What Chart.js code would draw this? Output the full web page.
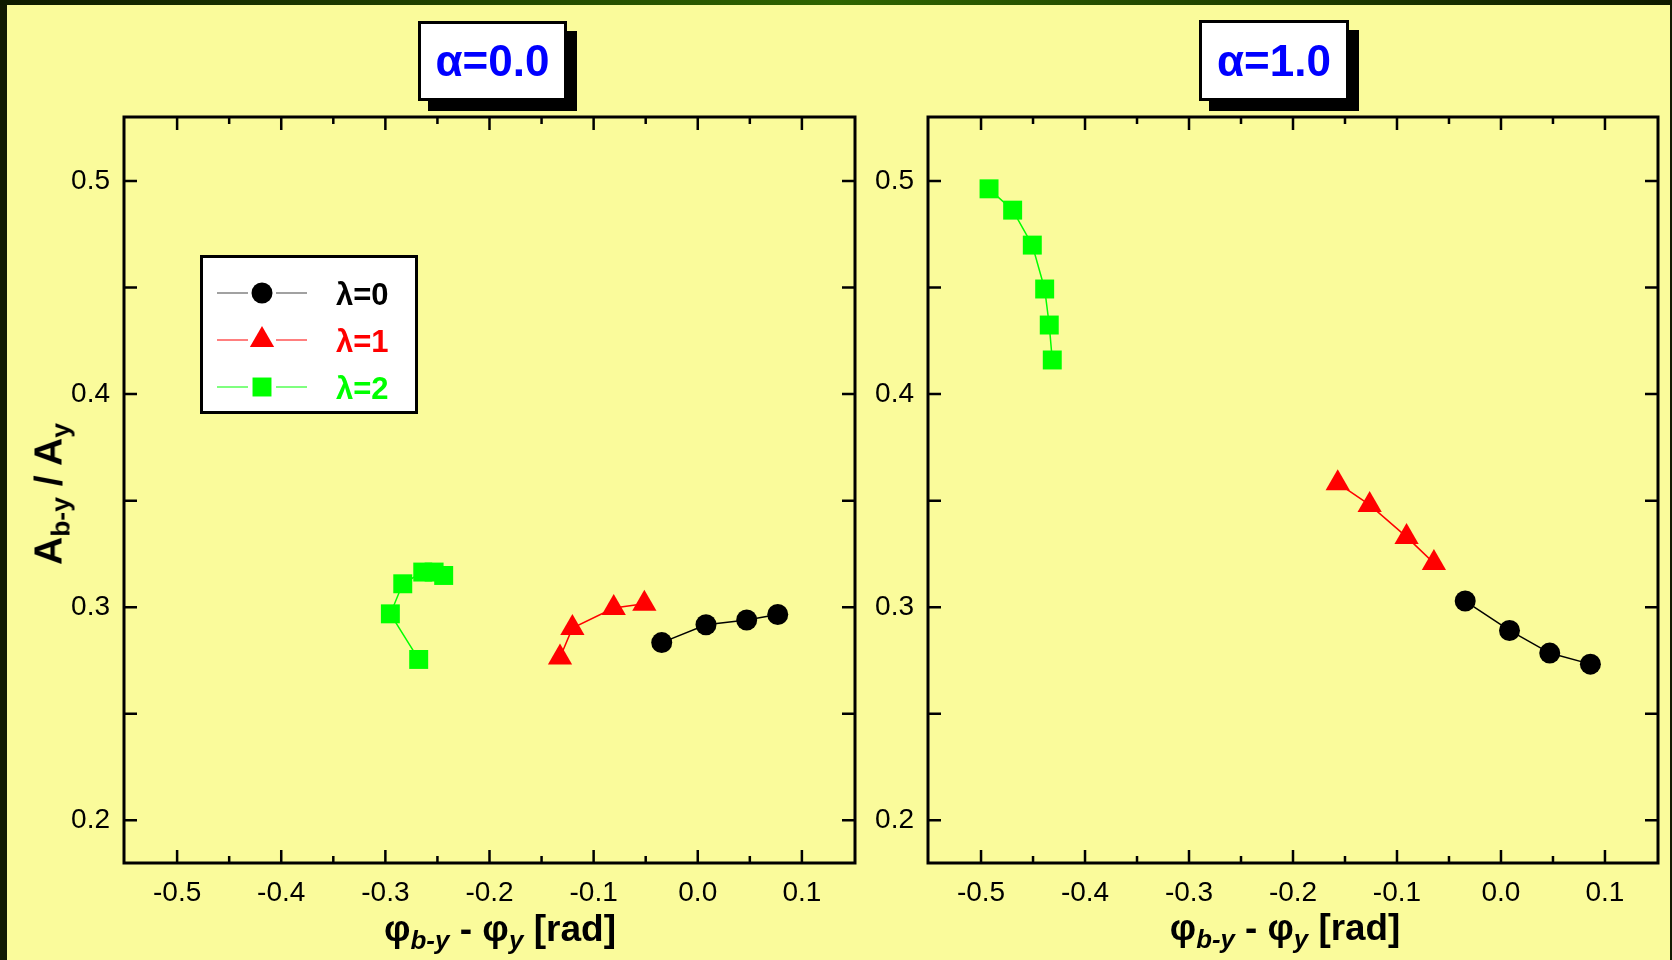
<!DOCTYPE html>
<html>
<head>
<meta charset="utf-8">
<script src="https://cdn.jsdelivr.net/npm/chart.js@4.4.1/dist/chart.umd.min.js"></script>
<style>
  html, body { margin: 0; padding: 0; }
  body {
    width: 1672px; height: 960px; position: relative; overflow: hidden;
    background: #111a02; font-family: "Liberation Sans", Arial, sans-serif;
  }
  #topbar { position: absolute; left: 0; top: 0; width: 1672px; height: 5px;
    background: linear-gradient(to right, #0f1a00, #2e6400 50%, #0f1a00); }
  #panel { position: absolute; left: 7px; top: 5px; width: 1663px; height: 955px; background: #FAFB9B; }
  canvas { position: absolute; top: 0; }
  #cL { left: 0; }
  #cR { left: 850px; }
  .tbox { position: absolute; background: #fff; border: 3px solid #000; box-sizing: border-box;
    box-shadow: 10px 10px 0 #000; display: flex; align-items: center; justify-content: center; }
  .tbox span { color: #0000ff; font-weight: bold; font-size: 44px; line-height: 1;
    display: inline-block; white-space: nowrap; }
  .xt { position: absolute; top: 910px; font-weight: bold; font-size: 36px; line-height: 1;
    white-space: nowrap; color: #000; transform: translateX(-50%); }
  .xt sub { font-style: italic; font-size: 0.7em; vertical-align: -0.32em; line-height: 0; }
  #yt { position: absolute; left: 48px; top: 494px; font-weight: bold; font-size: 39px; line-height: 1;
    white-space: nowrap; color: #000; transform: translate(-50%, -50%) rotate(-90deg); }
  #yt sub { font-size: 0.68em; vertical-align: -0.3em; line-height: 0; }
</style>
</head>
<body>
<div id="topbar"></div>
<div id="panel"></div>
<canvas id="cL" width="890" height="960"></canvas>
<canvas id="cR" width="822" height="960"></canvas>

<div class="tbox" style="left:418px;top:21px;width:149px;height:80px;"><span data-w="114">α=0.0</span></div>
<div class="tbox" style="left:1199px;top:20px;width:150px;height:81px;"><span data-w="114">α=1.0</span></div>

<div class="xt" data-w="232" data-cx="500" data-base="941">φ<sub>b-y</sub> - φ<sub>y</sub> [rad]</div>
<div class="xt" data-w="230" data-cx="1285" data-base="941">φ<sub>b-y</sub> - φ<sub>y</sub> [rad]</div>
<div id="yt">A<sub>b-y</sub> / A<sub>y</sub></div>

<script>
// 刻度
const xTickValues = [-0.5, -0.4, -0.3, -0.2, -0.1, 0.0, 0.1];
const xMinorValues = [-0.45, -0.35, -0.25, -0.15, -0.05, 0.05];
const yTickValues = [0.2, 0.3, 0.4, 0.5];
const yMinorValues = [0.25, 0.35, 0.45];

const seriesNames = ["λ=0", "λ=1", "λ=2"];
const seriesColors = ["#000000", "#ff0000", "#00ff00"];
const seriesStyles = ["circle", "triangle", "rect"];

// α=0.0
const a0_l0_x = [-0.0346, 0.0079, 0.0470, 0.0768];
const a0_l0_y = [0.2834, 0.2918, 0.2940, 0.2966];
const a0_l1_x = [-0.1323, -0.1204, -0.0807, -0.0513];
const a0_l1_y = [0.2764, 0.2902, 0.2996, 0.3016];
const a0_l2_x = [-0.2680, -0.2952, -0.2833, -0.2641, -0.2532, -0.2440];
const a0_l2_y = [0.2755, 0.2969, 0.3110, 0.3165, 0.3165, 0.3149];

// α=1.0
const a1_l0_x = [-0.0344, 0.0082, 0.0469, 0.0860];
const a1_l0_y = [0.3029, 0.2891, 0.2785, 0.2733];
const a1_l1_x = [-0.1570, -0.1263, -0.0908, -0.0645];
const a1_l1_y = [0.3582, 0.3480, 0.3330, 0.3207];
const a1_l2_x = [-0.4923, -0.4696, -0.4507, -0.4388, -0.4344, -0.4315];
const a1_l2_y = [0.4963, 0.4863, 0.4699, 0.4493, 0.4324, 0.4160];

const markerRadius = { circle: 10.5, triangle: 14, rect: 13.4 };
const tickFont = { family: "'Liberation Sans', Arial, sans-serif", size: 28 };

function fmt(v) {
  if (Math.abs(v) < 1e-9) v = 0;
  return v.toFixed(1);
}

// 手動畫標記（與 Chart.js 幾何一致）
function drawMarker(ctx, style, x, y, r) {
  ctx.beginPath();
  if (style === "circle") {
    ctx.arc(x, y, r, 0, Math.PI * 2);
  } else if (style === "triangle") {
    ctx.moveTo(x, y - r);
    ctx.lineTo(x + r * Math.sin(Math.PI * 2 / 3), y - r * Math.cos(Math.PI * 2 / 3));
    ctx.lineTo(x + r * Math.sin(Math.PI * 4 / 3), y - r * Math.cos(Math.PI * 4 / 3));
    ctx.closePath();
  } else {
    const s = r * Math.SQRT1_2;
    ctx.rect(x - s, y - s, 2 * s, 2 * s);
  }
  ctx.fill();
}

// 外框與向內刻度
const frameTicks = {
  id: "frameTicks",
  afterDraw(chart) {
    const { ctx, chartArea: a, scales: { x, y } } = chart;
    ctx.save();
    ctx.strokeStyle = "#000";
    ctx.lineWidth = 2.5;
    ctx.beginPath();
    xTickValues.forEach(v => {
      const px = x.getPixelForValue(v);
      ctx.moveTo(px, a.bottom); ctx.lineTo(px, a.bottom - 13);
      ctx.moveTo(px, a.top); ctx.lineTo(px, a.top + 13);
    });
    xMinorValues.forEach(v => {
      const px = x.getPixelForValue(v);
      ctx.moveTo(px, a.bottom); ctx.lineTo(px, a.bottom - 7);
      ctx.moveTo(px, a.top); ctx.lineTo(px, a.top + 7);
    });
    yTickValues.concat(yMinorValues).forEach(v => {
      const py = y.getPixelForValue(v);
      ctx.moveTo(a.left, py); ctx.lineTo(a.left + 13, py);
      ctx.moveTo(a.right, py); ctx.lineTo(a.right - 13, py);
    });
    ctx.stroke();
    ctx.lineWidth = 3;
    ctx.strokeRect(a.left, a.top, a.right - a.left, a.bottom - a.top);
    ctx.restore();
  }
};

// 圖例（左圖內）
const boxLegend = {
  id: "boxLegend",
  afterDraw(chart) {
    const ctx = chart.ctx;
    const bx = 201.5, by = 256.5, bw = 215, bh = 156;
    const rows = [293, 340, 387];
    ctx.save();
    ctx.fillStyle = "#fff";
    ctx.fillRect(bx, by, bw, bh);
    ctx.lineWidth = 3;
    ctx.strokeStyle = "#000";
    ctx.strokeRect(bx, by, bw, bh);
    seriesNames.forEach((name, i) => {
      const ry = rows[i];
      ctx.strokeStyle = i === 0 ? "#444" : seriesColors[i];
      ctx.lineWidth = 1.2;
      ctx.beginPath();
      ctx.moveTo(217, ry); ctx.lineTo(248, ry);
      ctx.moveTo(276, ry); ctx.lineTo(307, ry);
      ctx.stroke();
      ctx.fillStyle = seriesColors[i];
      drawMarker(ctx, seriesStyles[i], 262, ry, markerRadius[seriesStyles[i]]);
      ctx.font = "bold 31px 'Liberation Sans', Arial, sans-serif";
      ctx.textBaseline = "alphabetic";
      ctx.textAlign = "left";
      ctx.fillText(name, 336, ry + 11.5);
    });
    ctx.restore();
  }
};

function makeSet(xs, ys, i) {
  const st = seriesStyles[i];
  return {
    label: seriesNames[i],
    data: xs.map((v, k) => ({ x: v, y: ys[k] })),
    showLine: true,
    borderColor: seriesColors[i],
    borderWidth: 1.5,
    backgroundColor: seriesColors[i],
    pointStyle: st,
    pointRadius: markerRadius[st],
    pointHoverRadius: markerRadius[st],
    pointBorderWidth: 0,
  };
}

function panelConfig(datasets, yWidth, padRight, extra) {
  return {
    type: "scatter",
    data: { datasets },
    options: {
      responsive: false,
      animation: false,
      devicePixelRatio: 1,
      events: [],
      layout: { padding: { top: 117, right: padRight, bottom: 37, left: 0 } },
      plugins: { legend: { display: false }, tooltip: { enabled: false } },
      scales: {
        x: {
          type: "linear", min: -0.551, max: 0.151,
          afterBuildTicks: sc => { sc.ticks = xTickValues.map(v => ({ value: v })); },
          afterFit: sc => { sc.height = 60; },
          grid: { display: false, drawTicks: false },
          border: { display: false },
          ticks: { padding: 13, color: "#000", font: tickFont, maxRotation: 0, autoSkip: false, callback: v => fmt(v) },
        },
        y: {
          type: "linear", min: 0.18, max: 0.53,
          afterBuildTicks: sc => { sc.ticks = yTickValues.map(v => ({ value: v })); },
          afterFit: sc => { sc.width = yWidth; },
          grid: { display: false, drawTicks: false },
          border: { display: false },
          ticks: { padding: 14, color: "#000", font: tickFont, autoSkip: false, callback: v => fmt(v) },
        },
      },
    },
    plugins: [frameTicks].concat(extra),
  };
}

new Chart(document.getElementById("cL"), panelConfig([
  makeSet(a0_l0_x, a0_l0_y, 0),
  makeSet(a0_l1_x, a0_l1_y, 1),
  makeSet(a0_l2_x, a0_l2_y, 2),
], 124, 35, [boxLegend]));

new Chart(document.getElementById("cR"), panelConfig([
  makeSet(a1_l0_x, a1_l0_y, 0),
  makeSet(a1_l1_x, a1_l1_y, 1),
  makeSet(a1_l2_x, a1_l2_y, 2),
], 78, 13, []));

// 依原圖寬度調整標題字級
document.querySelectorAll("[data-w]").forEach(el => {
  const fs = parseFloat(getComputedStyle(el).fontSize);
  const nfs = fs * parseFloat(el.dataset.w) / el.offsetWidth;
  el.style.fontSize = nfs.toFixed(1) + "px";
  if (el.dataset.cx) el.style.left = el.dataset.cx + "px";
  if (el.dataset.base) el.style.top = (parseFloat(el.dataset.base) - 0.8465 * nfs).toFixed(1) + "px";
});
</script>
</body>
</html>
